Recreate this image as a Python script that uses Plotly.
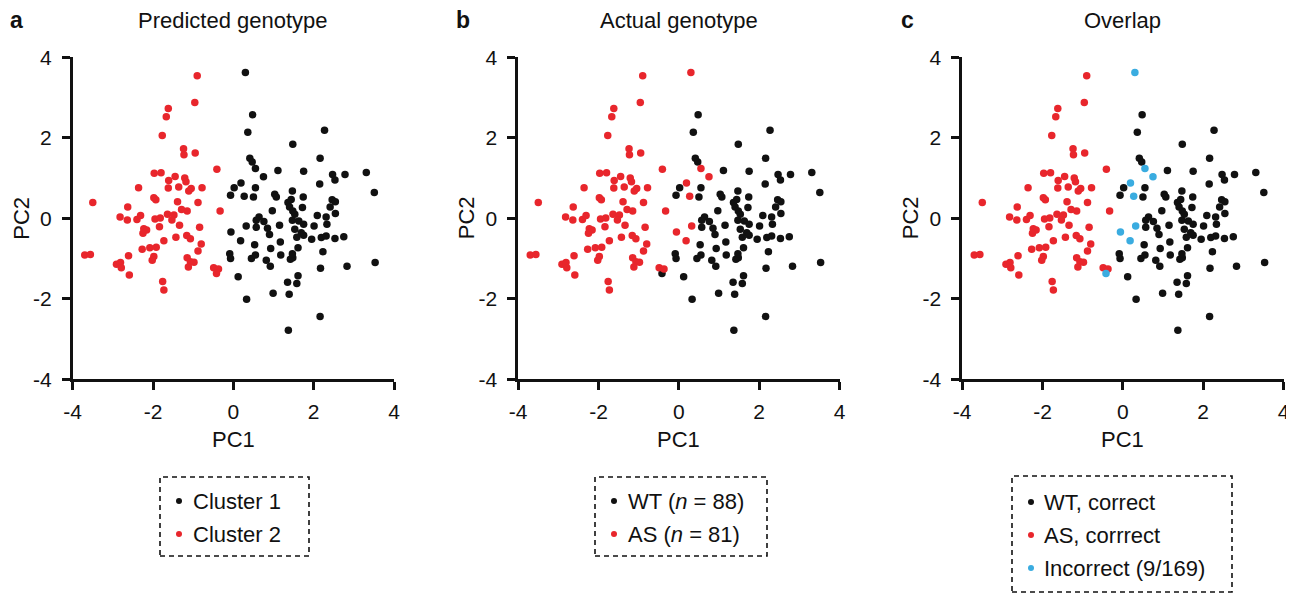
import plotly.graph_objects as go

# ---------------- data (PC1, PC2) ----------------
# WT, correctly predicted (cluster 1)
wt_correct_x = [0.48, 0.36, 2.27, 1.48, 0.41, 0.47, 2.16, 1.11, 1.75, 2.47, 2.53, 2.78, 3.31, 2.15,
                0.02, -0.07, 0.55, 0.50, 3.51, 1.47, 1.03, 1.07, 1.74, 1.36, 1.44, 1.40, 1.48, 1.72,
                0.97, 2.46, 2.54, 2.41, 2.54, 2.09, 2.31, 0.64, 0.57, 0.76, 0.57, 0.85, 0.90, 1.15,
                1.53, 1.47, 1.63, 1.75, 1.53, 1.69, 1.58, 1.75, 2.01, 2.33, 1.95, 2.19, 2.31, 2.53,
                2.75, 0.53, 0.93, 1.17, 1.61, -0.09, -0.07, 0.45, 0.55, 0.82, 0.92, 1.18, 1.42, 1.48,
                1.47, 2.23, 2.17, 2.83, 3.53, 0.12, 1.61, 1.58, 1.35, 0.99, 1.39, 0.33, 2.16, 1.37]
wt_correct_y = [2.57, 2.14, 2.19, 1.84, 1.49, 1.40, 1.49, 1.19, 1.17, 1.09, 0.95, 1.09, 1.14, 0.85,
                0.76, 0.57, 0.76, 0.53, 0.64, 0.68, 0.60, 0.53, 0.53, 0.39, 0.47, 0.28, 0.18, 0.27,
                0.19, 0.46, 0.41, 0.28, 0.12, 0.07, 0.03, 0.03, -0.05, -0.08, -0.22, -0.25, -0.40, -0.17,
                0.10, -0.05, -0.07, -0.15, -0.27, -0.36, -0.47, -0.42, -0.19, -0.15, -0.52, -0.48, -0.44, -0.50,
                -0.46, -0.66, -0.75, -0.59, -0.73, -0.88, -1.00, -1.00, -0.91, -1.04, -1.19, -0.91, -1.02, -0.98,
                -0.88, -0.83, -1.24, -1.19, -1.10, -1.45, -1.43, -1.62, -1.59, -1.86, -1.89, -2.01, -2.44, -2.78]

# AS, correctly predicted (cluster 2)
as_correct_x = [-0.90, -0.96, -1.62, -1.67, -1.77, -1.24, -1.23, -0.95, -0.41, -1.97, -1.80, -1.45,
                -1.61, -1.21, -1.18, -2.36, -1.62, -1.36, -1.11, -1.05, -0.78, -3.50, -1.98, -1.93,
                -1.39, -0.88, -2.63, -1.29, -1.15, -0.33, -2.82, -2.64, -2.40, -2.31, -1.95, -1.82,
                -1.64, -1.48, -1.53, -1.84, -1.34, -0.84, -2.23, -2.16, -2.25, -1.43, -1.16, -1.07,
                -1.73, -0.80, -0.88, -3.70, -3.56, -2.61, -2.27, -2.08, -1.92, -1.98, -2.02, -2.91,
                -2.81, -2.79, -2.59, -1.15, -1.07, -0.98, -1.12, -0.49, -0.37, -1.76, -1.73]
as_correct_y = [3.54, 2.88, 2.73, 2.52, 2.06, 1.73, 1.58, 1.62, 1.22, 1.12, 1.13, 1.04,
                0.94, 1.00, 0.91, 0.76, 0.75, 0.78, 0.68, 0.74, 0.76, 0.39, 0.51, 0.46,
                0.41, 0.39, 0.28, 0.22, 0.18, 0.18, 0.03, -0.04, -0.03, 0.07, -0.02, 0.01,
                0.10, 0.08, -0.04, -0.21, -0.17, -0.22, -0.26, -0.29, -0.37, -0.47, -0.43, -0.51,
                -0.56, -0.64, -0.81, -0.91, -0.90, -0.93, -0.77, -0.73, -0.72, -0.95, -1.04, -1.14,
                -1.10, -1.23, -1.41, -0.98, -1.08, -1.09, -1.21, -1.23, -1.26, -1.57, -1.78]

# Incorrectly predicted (9/169) with actual genotype
incorrect_x = [0.30, 0.55, 0.75, 0.19, 0.27, 0.32, -0.06, 0.18, -0.42]
incorrect_y = [3.62, 1.24, 1.03, 0.88, 0.55, -0.19, -0.34, -0.56, -1.37]
incorrect_actual = ["AS", "AS", "AS", "AS", "AS", "AS", "AS", "AS", "WT"]

tick_vals = [-4, -2, 0, 2, 4]
tick_text = ["-4", "-2", "0", "2", "4"]
panel_titles = ["Predicted genotype", "Actual genotype", "Overlap"]
panel_letters = ["a", "b", "c"]
legend_a = ["Cluster 1", "Cluster 2"]
legend_b = ["WT (<i>n</i> = 88)", "AS (<i>n</i> = 81)"]
legend_c = ["WT, correct", "AS, corrrect", "Incorrect (9/169)"]

# ---------------- styling ----------------
BLACK = "#111111"
RED = "#E8262C"
BLUE = "#3AACE0"
FONT = "Liberation Sans, Arial, Helvetica, sans-serif"
W, H = 1294, 594
OFF = 8  # page body margin offset compensation
MS = 7.5

def px(x):
    return (x - OFF) / W

def py(y):
    return 1 - (y - OFF) / H

# panel pixel layout (page pixels)
x_left = [72.7, 518.2, 962.2]
x_width = 321.3
y_top, y_bot = 57.3, 379.3

# derived groups
inc_as_x = [x for x, a in zip(incorrect_x, incorrect_actual) if a == "AS"]
inc_as_y = [y for y, a in zip(incorrect_y, incorrect_actual) if a == "AS"]
inc_wt_x = [x for x, a in zip(incorrect_x, incorrect_actual) if a == "WT"]
inc_wt_y = [y for y, a in zip(incorrect_y, incorrect_actual) if a == "WT"]

fig = go.Figure()

def add(xs, ys, color, idx):
    sfx = "" if idx == 1 else str(idx)
    fig.add_trace(go.Scatter(x=xs, y=ys, mode="markers", xaxis="x" + sfx, yaxis="y" + sfx,
                             marker=dict(size=MS, color=color, line=dict(width=0)),
                             showlegend=False, hoverinfo="x+y", cliponaxis=False))

# Panel a: predicted clusters
add(wt_correct_x + inc_as_x, wt_correct_y + inc_as_y, BLACK, 1)
add(as_correct_x + inc_wt_x, as_correct_y + inc_wt_y, RED, 1)
# Panel b: actual genotype
add(wt_correct_x + inc_wt_x, wt_correct_y + inc_wt_y, BLACK, 2)
add(as_correct_x + inc_as_x, as_correct_y + inc_as_y, RED, 2)
# Panel c: overlap
add(wt_correct_x, wt_correct_y, BLACK, 3)
add(as_correct_x, as_correct_y, RED, 3)
add(incorrect_x, incorrect_y, BLUE, 3)

axis_common = dict(range=[-4, 4], tickvals=tick_vals, ticktext=tick_text, showline=True,
                   linewidth=2.5, linecolor=BLACK, ticks="outside", ticklen=8, tickwidth=2.5,
                   tickcolor=BLACK, showgrid=False, zeroline=False, fixedrange=True,
                   automargin=False,
                   tickfont=dict(family=FONT, size=21, color=BLACK))

layout = dict(width=W, height=H, margin=dict(l=0, r=0, t=0, b=0, pad=0), autosize=False,
              paper_bgcolor="white", plot_bgcolor="white", showlegend=False)
for i in range(3):
    sfx = "" if i == 0 else str(i + 1)
    layout["xaxis" + sfx] = dict(axis_common, domain=[px(x_left[i]), px(x_left[i] + x_width)],
                                 anchor="y" + sfx, ticklabelstandoff=4)
    layout["yaxis" + sfx] = dict(axis_common, domain=[py(y_bot), py(y_top)],
                                 anchor="x" + sfx, ticklabelstandoff=6)
fig.update_layout(**layout)

annotations = []
shapes = []
for i in range(3):
    cx = x_left[i] + x_width / 2
    annotations.append(dict(text=panel_titles[i], x=px(cx), y=py(20), xref="paper", yref="paper",
                            xanchor="center", yanchor="middle", showarrow=False,
                            font=dict(family=FONT, size=22, color=BLACK)))
    annotations.append(dict(text="<b>" + panel_letters[i] + "</b>", x=px(8 + 445.5 * i), y=py(20),
                            xref="paper", yref="paper", xanchor="left", yanchor="middle",
                            showarrow=False, font=dict(family=FONT, size=23, color=BLACK)))
    annotations.append(dict(text="PC1", x=px(cx), y=py(439), xref="paper", yref="paper",
                            xanchor="center", yanchor="middle", showarrow=False,
                            font=dict(family=FONT, size=22, color=BLACK)))
    annotations.append(dict(text="PC2", x=px(x_left[i] - 52), y=py(218), xref="paper", yref="paper",
                            xanchor="center", yanchor="middle", showarrow=False, textangle=-90,
                            font=dict(family=FONT, size=22, color=BLACK)))

def legend(box, dot_x, text_x, rows, labels, colors):
    x0, y0, x1, y1 = box
    shapes.append(dict(type="rect", xref="paper", yref="paper", x0=px(x0), x1=px(x1),
                       y0=py(y1), y1=py(y0), line=dict(color=BLACK, width=1.6, dash="5px,4px")))
    for r, lab, col in zip(rows, labels, colors):
        shapes.append(dict(type="circle", xref="paper", yref="paper",
                           x0=px(dot_x - 3), x1=px(dot_x + 3), y0=py(r + 3), y1=py(r - 3),
                           fillcolor=col, line=dict(width=0)))
        annotations.append(dict(text=lab, x=px(text_x), y=py(r), xref="paper", yref="paper",
                                xanchor="left", yanchor="middle", showarrow=False,
                                font=dict(family=FONT, size=22, color=BLACK)))

legend((160, 477, 309, 556), 179, 191, [501, 534], legend_a, [BLACK, RED])
legend((595, 477, 767, 556), 614, 626, [501, 534], legend_b, [BLACK, RED])
legend((1012, 476, 1232, 592), 1031, 1042, [502, 535, 568], legend_c, [BLACK, RED, BLUE])

fig.update_layout(annotations=annotations, shapes=shapes)
fig.write_html("out.html")
